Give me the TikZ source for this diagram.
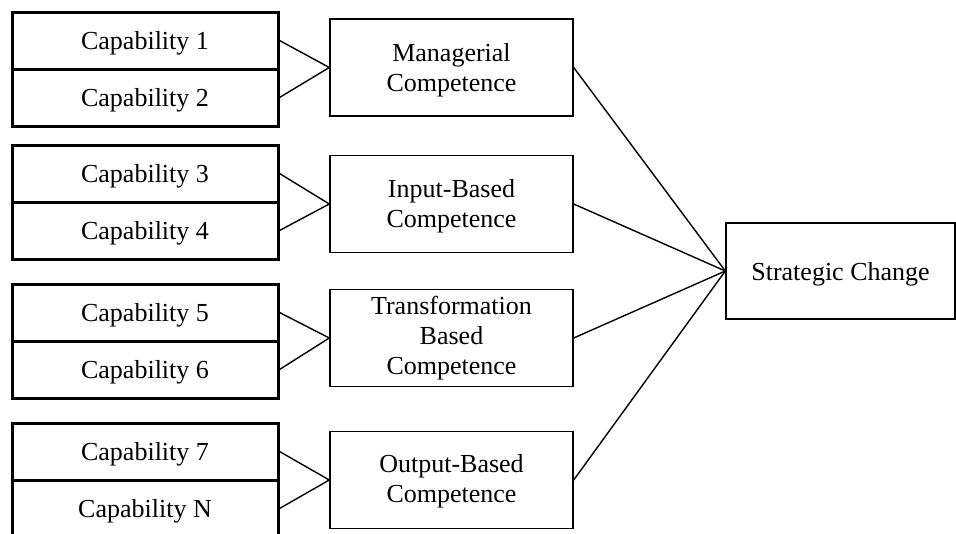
\documentclass[tikz,border=0pt]{standalone}
\usepackage{fontspec}
\setmainfont{Liberation Serif}
\begin{document}
\begin{tikzpicture}[x=1pt,y=-1pt,
  capbox/.style={draw, line width=3pt, minimum width=266pt, minimum height=57pt, inner sep=0pt, text height=22pt, text depth=5pt, font=\fontsize{26}{30}\selectfont},
  compbox/.style={draw, line width=1.4pt, minimum width=243pt, minimum height=97pt, inner sep=0pt, align=center, text depth=5pt, font=\fontsize{26}{30}\selectfont},
  goalbox/.style={draw, line width=1.4pt, minimum width=229pt, minimum height=96pt, inner sep=0pt, align=center, text height=23pt, text depth=5pt, font=\fontsize{26}{30}\selectfont},
  conn/.style={line width=1.4pt}]
\useasboundingbox (0,0) rectangle (956,533);
\clip (0,0) rectangle (956,533);
\node[capbox] (c1) at (145,40.5) {Capability 1};
\node[capbox] (c2) at (145,97.5) {Capability 2};
\node[capbox] (c3) at (145,173.5) {Capability 3};
\node[capbox] (c4) at (145,230.5) {Capability 4};
\node[capbox] (c5) at (145,312.5) {Capability 5};
\node[capbox] (c6) at (145,369.5) {Capability 6};
\node[capbox] (c7) at (145,451.5) {Capability 7};
\node[capbox] (c8) at (145,508.5) {Capability N};
\node[compbox, text height=53pt] (m) at (451.5,67.5) {Managerial\\Competence};
\node[compbox, text height=51pt] (i) at (451.5,204) {Input-Based\\Competence};
\node[compbox, text height=77pt] (t) at (451.5,338) {Transformation\\Based\\Competence};
\node[compbox, text height=49pt] (o) at (451.5,480) {Output-Based\\Competence};
\node[goalbox] (s) at (840.5,271) {Strategic Change};
\draw[conn] (c1.east) -- (m.west) -- (c2.east);
\draw[conn] (c3.east) -- (i.west) -- (c4.east);
\draw[conn] (c5.east) -- (t.west) -- (c6.east);
\draw[conn] (c7.east) -- (o.west) -- (c8.east);
\draw[conn] (m.east) -- (s.west);
\draw[conn] (i.east) -- (s.west);
\draw[conn] (t.east) -- (s.west);
\draw[conn] (o.east) -- (s.west);
\end{tikzpicture}
\end{document}
